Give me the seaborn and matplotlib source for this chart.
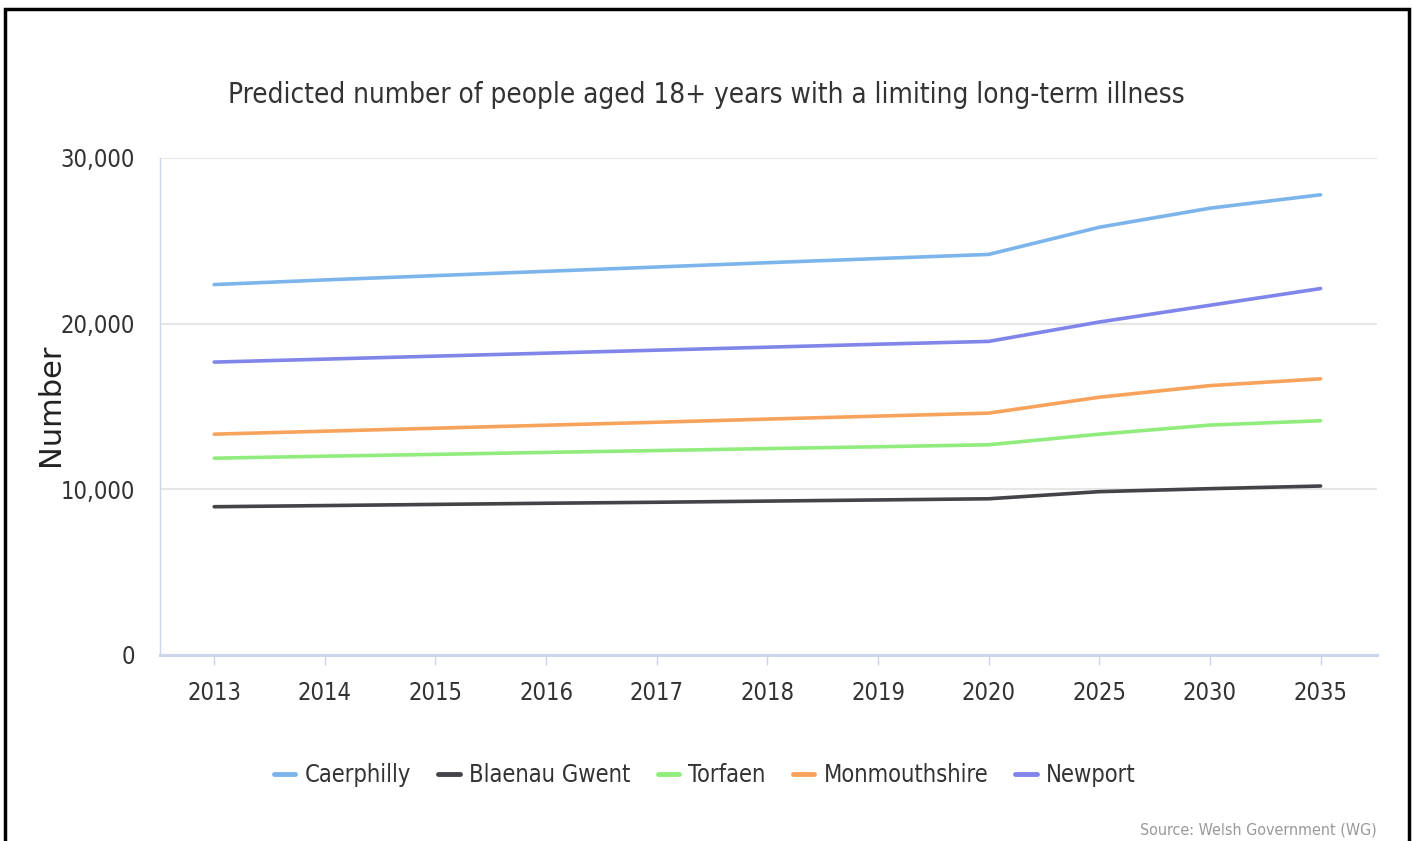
import matplotlib
matplotlib.use("Agg")
import matplotlib.pyplot as plt
import numpy as np
import pandas as pd
import seaborn as sns
from matplotlib import font_manager
from matplotlib.font_manager import FontProperties
from matplotlib.patches import Rectangle
from matplotlib.lines import Line2D

# ---------------- data ----------------
years = ["2013", "2014", "2015", "2016", "2017", "2018", "2019", "2020", "2025", "2030", "2035"]
caerphilly = [22360, 22640, 22900, 23160, 23420, 23680, 23930, 24180, 25820, 26970, 27780]
blaenau_gwent = [8950, 9020, 9090, 9160, 9220, 9290, 9360, 9430, 9860, 10040, 10200]
torfaen = [11880, 12000, 12110, 12230, 12340, 12460, 12570, 12690, 13330, 13880, 14140]
monmouthshire = [13330, 13510, 13690, 13870, 14050, 14240, 14420, 14600, 15560, 16260, 16670]
newport = [17680, 17860, 18040, 18220, 18400, 18580, 18760, 18930, 20100, 21110, 22120]

series_names = ["Caerphilly", "Blaenau Gwent", "Torfaen", "Monmouthshire", "Newport"]
series_values = [caerphilly, blaenau_gwent, torfaen, monmouthshire, newport]
series_colors = ["#7cb5ec", "#434348", "#90ed7d", "#f7a35c", "#8085e9"]
y_ticks = [0, 10000, 20000, 30000]
y_tick_labels = ["0", "10,000", "20,000", "30,000"]

title_text = "Predicted number of people aged 18+ years with a limiting long-term illness"
y_label = "Number"
source_text = "Source: Welsh Government (WG)"

# ---------------- long form table ----------------
rows = []
for name, vals in zip(series_names, series_values):
    for i, (yr, v) in enumerate(zip(years, vals)):
        rows.append({"pos": i, "year": yr, "region": name, "value": v})
df = pd.DataFrame(rows)

sns.set_theme(style="white")

# ---------------- fonts ----------------
narrow_path = None
for f in font_manager.fontManager.ttflist:
    fn = f.fname.lower()
    if ("narrow" in fn or "condensed" in fn) and f.weight in (400, "normal", "regular") \
            and f.style == "normal" and "bold" not in fn and "italic" not in fn \
            and "oblique" not in fn and "light" not in fn:
        if narrow_path is None or "liberation" in fn:
            narrow_path = f.fname

def fp(size_narrow, size_plain):
    if narrow_path:
        return FontProperties(fname=narrow_path, size=size_narrow)
    return FontProperties(family="Liberation Sans", size=size_plain)

W, H = 1415, 841
fig = plt.figure(figsize=(W / 100, H / 100), dpi=100)
fig.patch.set_facecolor("white")

ax = fig.add_axes([160 / W, 1 - 655 / H, (1377 - 160) / W, (655 - 158) / H])

palette = dict(zip(series_names, series_colors))
sns.lineplot(data=df, x="pos", y="value", hue="region", hue_order=series_names,
             palette=palette, linewidth=2.6, ax=ax, legend=False, sort=True)

ax.set_xlim(-0.49, 10.51)
ax.set_ylim(0, 30000)
ax.set_xticks(range(len(years)))
ax.set_xticklabels(years)
ax.set_yticks(y_ticks)
ax.set_yticklabels(y_tick_labels)

tick_fp = fp(17, 15)
for lbl in ax.get_xticklabels() + ax.get_yticklabels():
    lbl.set_fontproperties(tick_fp)
    lbl.set_color("#333333")

ax.grid(axis="y", color="#e6e6e6", linewidth=1.5)
ax.grid(axis="x", visible=False)
ax.set_axisbelow(True)
for s in ["top", "right"]:
    ax.spines[s].set_visible(False)
ax.spines["left"].set_color("#ccd6eb")
ax.spines["left"].set_linewidth(1)
ax.spines["bottom"].set_color("#ccd6eb")
ax.spines["bottom"].set_linewidth(2.2)
ax.tick_params(axis="x", direction="out", length=7.5, width=1, color="#ccd6eb", pad=11, bottom=True)
ax.tick_params(axis="y", length=0, pad=18)
ax.set_xlabel("")
ax.set_ylabel("")

# y label
fig.text(50 / W, 1 - 405 / H, y_label, rotation=90, ha="center", va="center",
         fontsize=22, family="DejaVu Sans", color="#222222")

# title
fig.text(706 / W, 1 - 95 / H, title_text, ha="center", va="center",
         fontproperties=fp(20, 18), color="#333333")

# legend
handles = [Line2D([0], [0], color=c, lw=3.5) for c in series_colors]
leg = fig.legend(handles, series_names, loc="center", bbox_to_anchor=(705 / W, 1 - 775 / H),
                 ncol=5, frameon=False, prop=fp(17, 15), handlelength=0.9,
                 handletextpad=0.4, columnspacing=1.15)
for t in leg.get_texts():
    t.set_color("#333333")

# source
fig.text(1377 / W, 1 - 830 / H, source_text, ha="right", va="center",
         fontproperties=fp(11.5, 10.5), color="#999999")

# outer border
fig.patches.append(Rectangle((5 / W, -0.05), (1409 - 5) / W, 1.05 - 9 / H,
                             transform=fig.transFigure, fill=False,
                             edgecolor="black", linewidth=2.5))

fig.savefig("out.png", dpi=100)
